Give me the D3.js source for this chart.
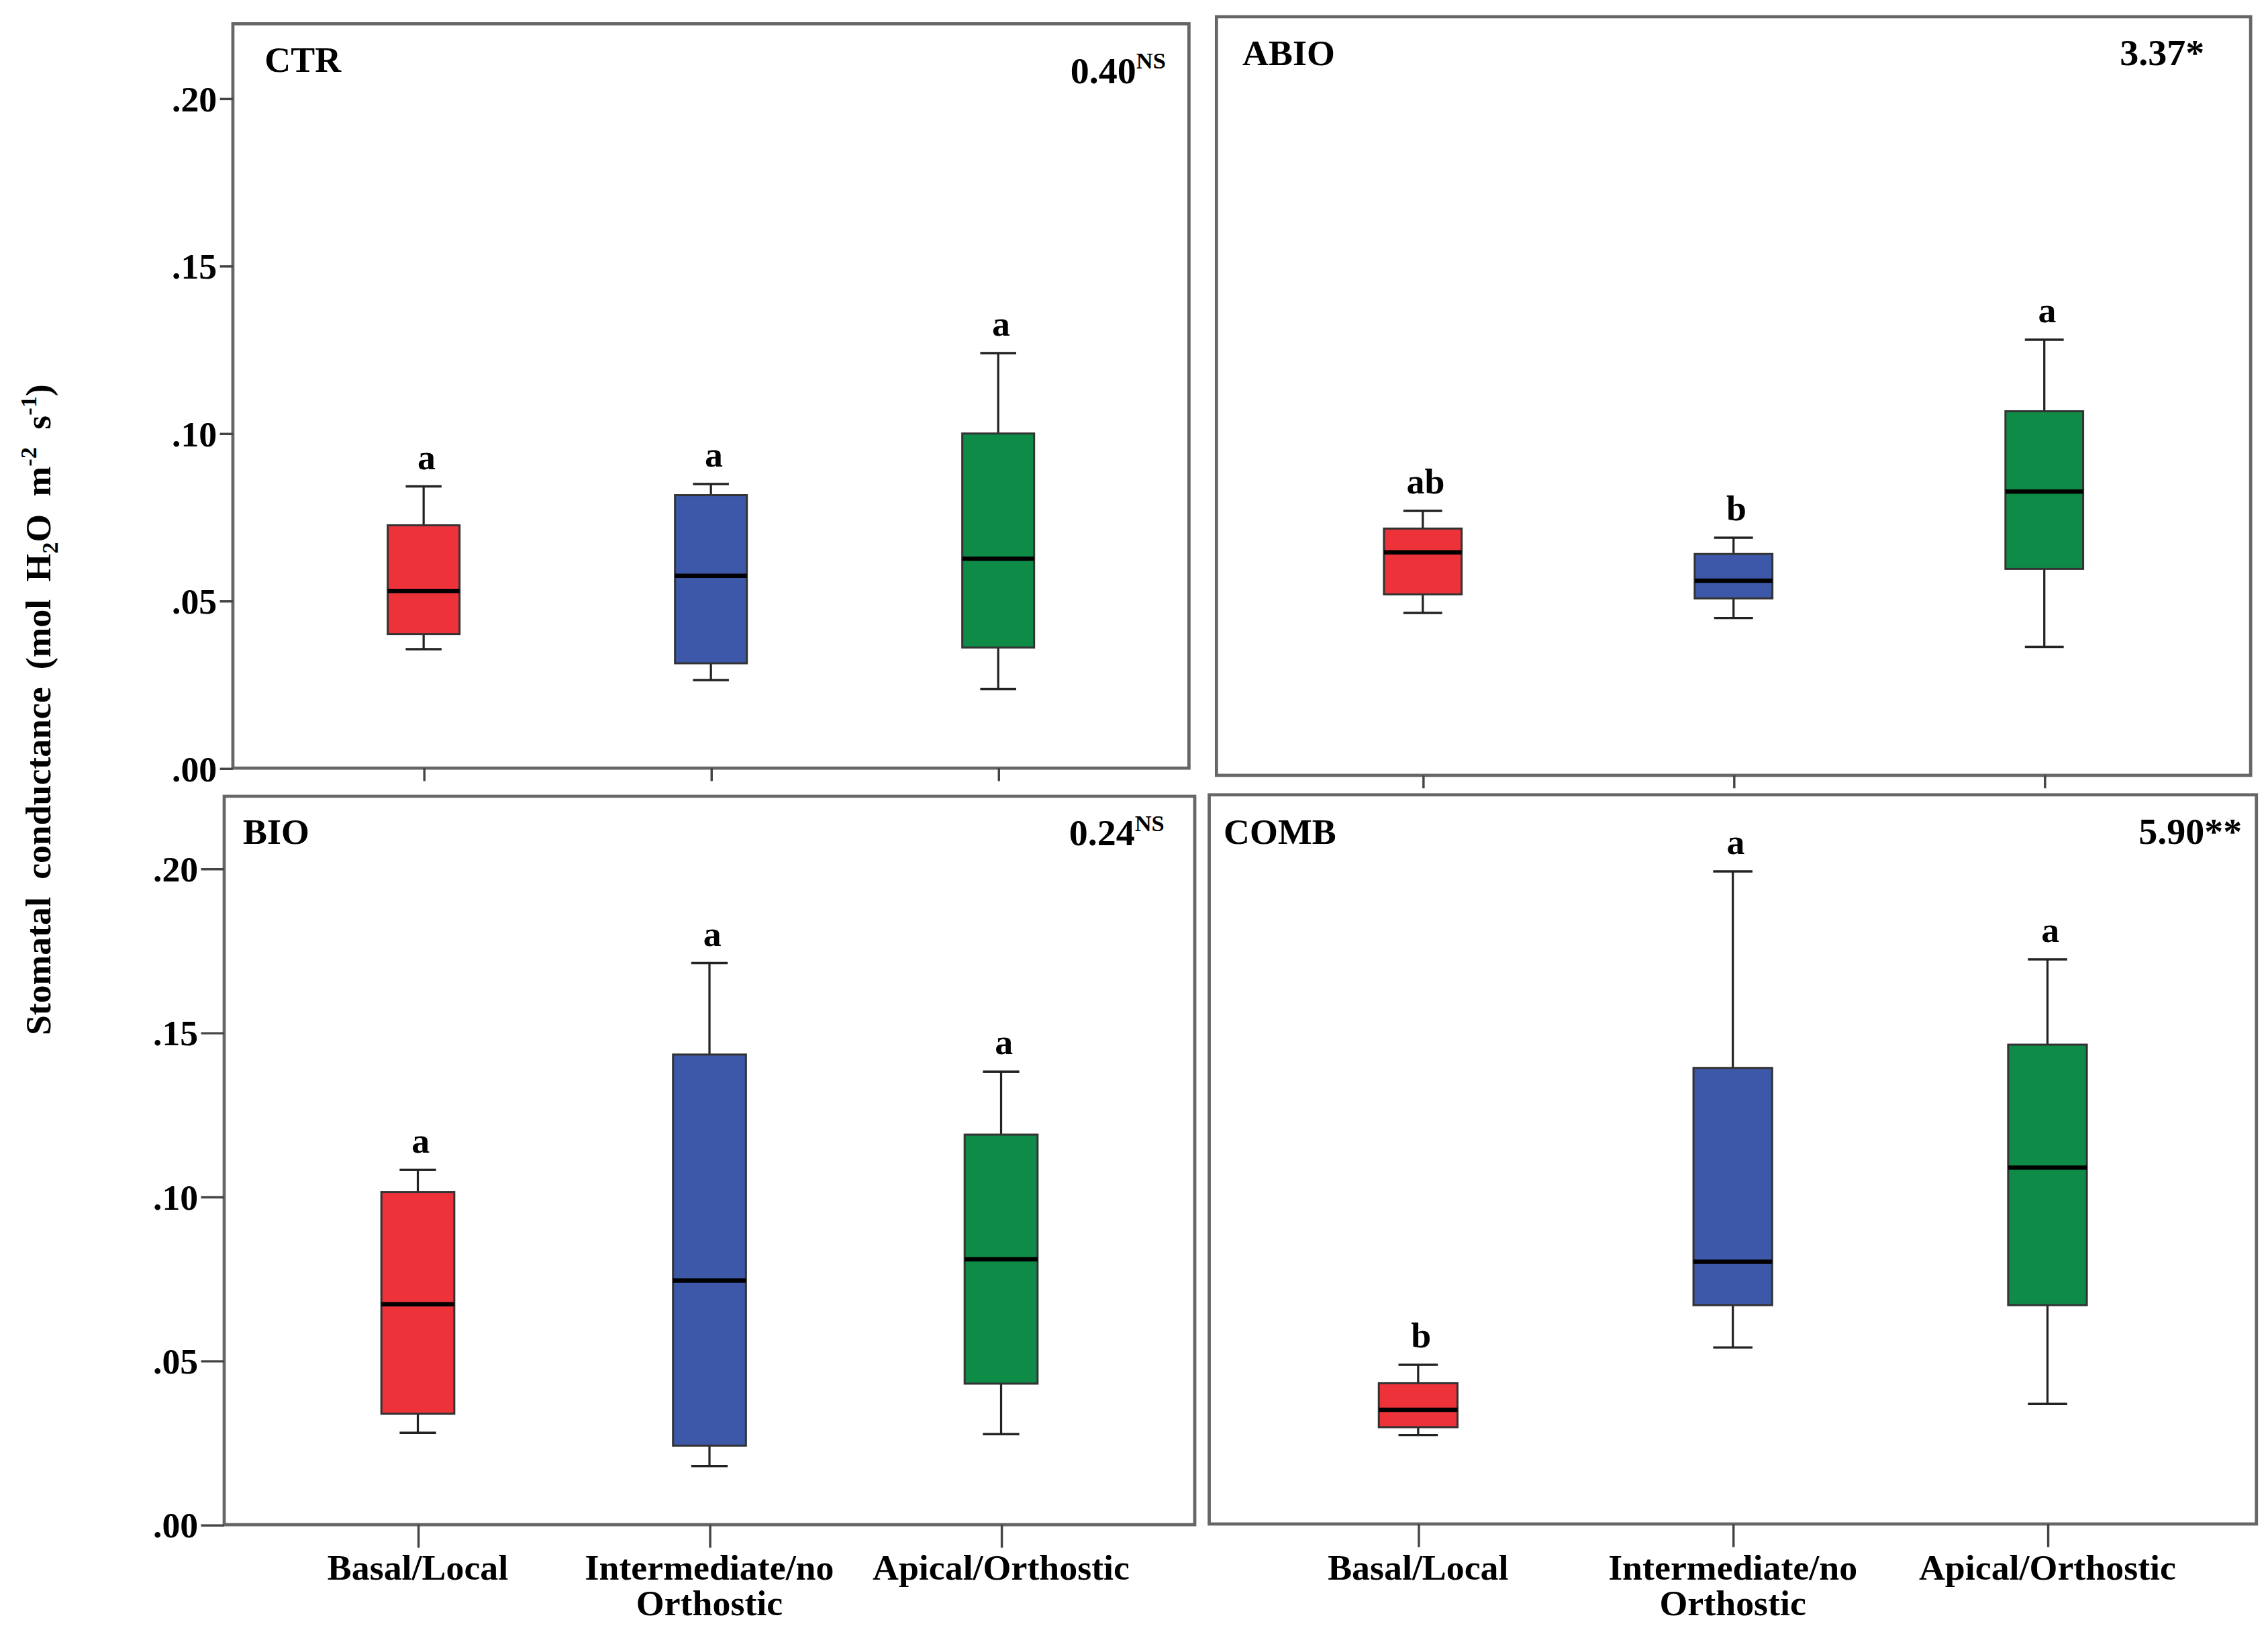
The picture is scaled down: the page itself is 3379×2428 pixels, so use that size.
<!DOCTYPE html>
<html>
<head>
<meta charset="utf-8">
<script src="https://d3js.org/d3.v7.min.js"></script>
<style>
  html, body { margin: 0; padding: 0; background: #ffffff; }
  svg { display: block; }
  text { font-family: "Liberation Serif", "Times New Roman", serif; font-weight: bold; fill: #000; }
</style>
</head>
<body>
<svg id="chart" width="3379" height="2428" viewBox="0 0 1568 1130" preserveAspectRatio="none"></svg>
<script>
// ---------------- DATA ----------------
const categories = ["Basal/Local", "Intermediate/no Orthostic", "Apical/Orthostic"];
const categoryLines = [["Basal/Local"], ["Intermediate/no", "Orthostic"], ["Apical/Orthostic"]];
const panelNames = ["CTR", "ABIO", "BIO", "COMB"];
const fValues = ["0.40", "3.37", "0.24", "5.90"];
const fSignif = ["NS", "*", "NS", "**"];
const yTickValues = [0, 0.05, 0.10, 0.15, 0.20];
const yTickLabels = [".00", ".05", ".10", ".15", ".20"];
// rows: CTR, ABIO, BIO, COMB ; columns: categories
const whiskerLow  = [[0.0355, 0.0263, 0.0236], [0.0479, 0.0464, 0.0379], [0.0280, 0.0179, 0.0276], [0.0271, 0.0538, 0.0366]];
const q1          = [[0.0400, 0.0313, 0.0360], [0.0534, 0.0522, 0.0609], [0.0338, 0.0241, 0.0430], [0.0295, 0.0667, 0.0667]];
const median      = [[0.0529, 0.0574, 0.0625], [0.0658, 0.0574, 0.0837], [0.0672, 0.0744, 0.0809], [0.0348, 0.0799, 0.1086]];
const q3          = [[0.0725, 0.0815, 0.0999], [0.0728, 0.0653, 0.1074], [0.1014, 0.1433, 0.1189], [0.0429, 0.1390, 0.1461]];
const whiskerHigh = [[0.0841, 0.0848, 0.1239], [0.0780, 0.0701, 0.1285], [0.1082, 0.1712, 0.1381], [0.0485, 0.1989, 0.1721]];
const letters = [["a", "a", "a"], ["ab", "b", "a"], ["a", "a", "a"], ["b", "a", "a"]];
const colors = ["#EE3239", "#3D58A8", "#0F8B48"];

// ---------------- LAYOUT ----------------
const layout = [
  { x0: 161, x1: 822,  y0: 16.5, y1: 532.5, yZero: 532.5, yTop: 68.1,  showY: true,  yTick: 9,  xTick: 9,  showX: false, label: [183, 50],  stat: [806, 57.5] },
  { x0: 841, x1: 1556, y0: 11.6, y1: 537.5, yZero: 537.5, yTop: 67.5,  showY: false, yTick: 0,  xTick: 9,  showX: false, label: [859, 45],  stat: [1524, 45] },
  { x0: 155, x1: 826,  y0: 552,  y1: 1057,  yZero: 1057,  yTop: 602.1, showY: true,  yTick: 16, xTick: 16, showX: true,  label: [168, 585], stat: [805, 586] },
  { x0: 836, x1: 1560, y0: 551,  y1: 1056.5, yZero: 1056.5, yTop: 601.6, showY: false, yTick: 0, xTick: 16, showX: true,  label: [846, 585], stat: [1550, 585] }
];

const svg = d3.select("#chart");
svg.append("rect").attr("x", 0).attr("y", 0).attr("width", 1568).attr("height", 1130).attr("fill", "#fff");

layout.forEach((L, p) => {
  const g = svg.append("g");
  const x = d3.scalePoint().domain(categories).range([L.x0, L.x1]).padding(0.664);
  const y = d3.scaleLinear().domain([0, 0.2]).range([L.yZero, L.yTop]);
  const step = x.step();
  const boxW = step * 0.25;
  const capW = boxW * 0.5;

  // frame
  g.append("rect")
    .attr("x", L.x0).attr("y", L.y0)
    .attr("width", L.x1 - L.x0).attr("height", L.y1 - L.y0)
    .attr("fill", "none").attr("stroke", "#666").attr("stroke-width", 2.2);

  // y axis
  if (L.showY) {
    const ya = g.append("g").attr("transform", `translate(${L.x0},0)`)
      .call(d3.axisLeft(y).tickValues(yTickValues).tickFormat((d, i) => yTickLabels[i]).tickSize(L.yTick).tickPadding(2));
    ya.select(".domain").remove();
    ya.selectAll(".tick line").attr("stroke", "#444").attr("stroke-width", 1.6);
    ya.selectAll(".tick text").attr("font-size", 25).attr("font-family", "Liberation Serif, serif")
      .attr("font-weight", "bold").attr("fill", "#000").attr("dy", "0.34em");
  }

  // x axis ticks
  const xa = g.append("g").attr("transform", `translate(0,${L.y1})`)
    .call(d3.axisBottom(x).tickSize(L.xTick).tickFormat(""));
  xa.select(".domain").remove();
  xa.selectAll(".tick line").attr("stroke", "#444").attr("stroke-width", 1.6);

  if (L.showX) {
    categories.forEach((c, i) => {
      const t = g.append("text").attr("x", x(c)).attr("y", 1095).attr("text-anchor", "middle").attr("font-size", 25);
      categoryLines[i].forEach((line, k) => {
        t.append("tspan").attr("x", x(c)).attr("dy", k === 0 ? 0 : 25).text(line);
      });
    });
  }

  // boxes
  categories.forEach((c, i) => {
    const cx = x(c);
    const lo = whiskerLow[p][i], a = q1[p][i], m = median[p][i], b = q3[p][i], hi = whiskerHigh[p][i];
    g.append("line").attr("x1", cx).attr("x2", cx).attr("y1", y(hi)).attr("y2", y(b)).attr("stroke", "#222").attr("stroke-width", 1.5);
    g.append("line").attr("x1", cx).attr("x2", cx).attr("y1", y(a)).attr("y2", y(lo)).attr("stroke", "#222").attr("stroke-width", 1.5);
    g.append("line").attr("x1", cx - capW / 2).attr("x2", cx + capW / 2).attr("y1", y(hi)).attr("y2", y(hi)).attr("stroke", "#222").attr("stroke-width", 1.6);
    g.append("line").attr("x1", cx - capW / 2).attr("x2", cx + capW / 2).attr("y1", y(lo)).attr("y2", y(lo)).attr("stroke", "#222").attr("stroke-width", 1.6);
    g.append("rect").attr("x", cx - boxW / 2).attr("y", y(b)).attr("width", boxW).attr("height", y(a) - y(b))
      .attr("fill", colors[i]).attr("stroke", "#333").attr("stroke-width", 1.4);
    g.append("line").attr("x1", cx - boxW / 2).attr("x2", cx + boxW / 2).attr("y1", y(m)).attr("y2", y(m))
      .attr("stroke", "#000").attr("stroke-width", 3);
    g.append("text").attr("x", cx + 2).attr("y", y(hi) - 12).attr("text-anchor", "middle").attr("font-size", 25).text(letters[p][i]);
  });

  // panel label
  g.append("text").attr("x", L.label[0]).attr("y", L.label[1]).attr("font-size", 25).text(panelNames[p]);

  // stat value
  const st = g.append("text").attr("x", L.stat[0]).attr("y", L.stat[1]).attr("text-anchor", "end").attr("font-size", 26);
  st.append("tspan").text(fValues[p]);
  if (fSignif[p] === "NS") {
    st.append("tspan").attr("font-size", 16).attr("dy", -10).text(fSignif[p]);
  } else {
    st.append("tspan").text(fSignif[p]);
  }
});

// y axis title
const yt = svg.append("text")
  .attr("transform", "translate(35,492) rotate(-90)")
  .attr("text-anchor", "middle")
  .attr("font-size", 25)
  .attr("word-spacing", 6);
yt.append("tspan").text("Stomatal conductance (mol H");
yt.append("tspan").attr("font-size", 16).attr("dy", 5).text("2");
yt.append("tspan").attr("dy", -5).text("O m");
yt.append("tspan").attr("font-size", 16).attr("dy", -10).text("-2");
yt.append("tspan").attr("dy", 10).text(" s");
yt.append("tspan").attr("font-size", 16).attr("dy", -10).text("-1");
yt.append("tspan").attr("dy", 10).text(")");
</script>
</body>
</html>
